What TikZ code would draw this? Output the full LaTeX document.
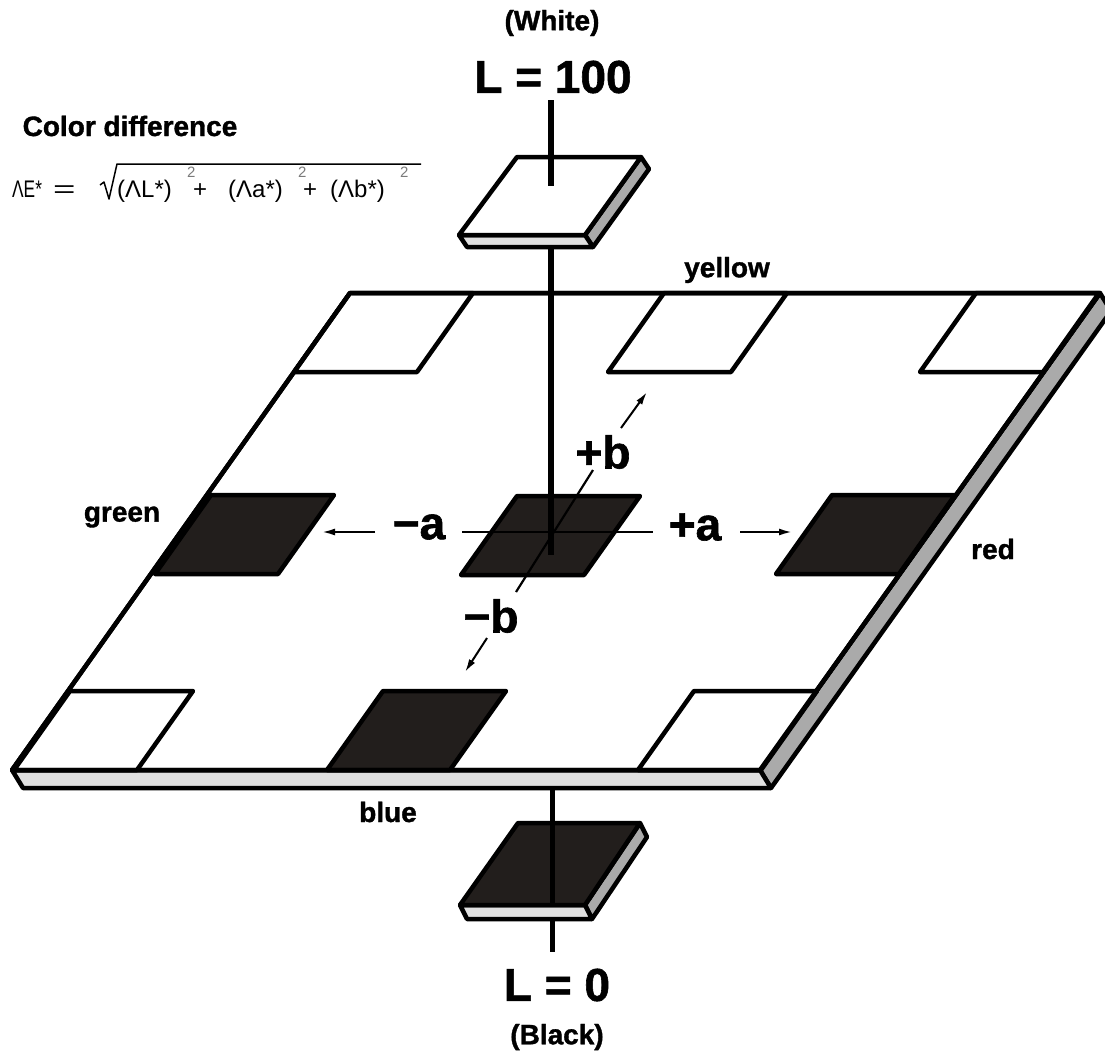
\documentclass[tikz,border=0pt]{standalone}
\usepackage{fontspec}
\setmainfont{Liberation Sans}
\newfontfamily\heavyfont{Liberation Sans}[BoldFeatures={FakeBold=1.3}]
\usetikzlibrary{arrows.meta}
\definecolor{tiledark}{HTML}{221E1C}
\definecolor{frontgray}{HTML}{E0E0E0}
\definecolor{sidegray}{HTML}{AAAAAA}
\definecolor{supgray}{HTML}{7A7A7A}
\begin{document}
\begin{tikzpicture}[x=1pt,y=-1pt,
  edge/.style={line width=4.5pt, line join=round},
  whiteface/.style={edge, fill=white},
  darkface/.style={edge, fill=tiledark},
  frontface/.style={edge, fill=frontgray},
  sideface/.style={edge, fill=sidegray},
  axisline/.style={line width=6pt},
  thinaxis/.style={line width=2.2pt},
  arrowline/.style={line width=2pt, -{Latex[length=13pt,width=7pt]}},
  lbl/.style={inner sep=0pt, font=\fontsize{28}{30}\selectfont\heavyfont\bfseries},
  biglbl/.style={inner sep=0pt, font=\fontsize{46}{50}\selectfont\heavyfont\bfseries},
  frm/.style={inner sep=0pt, anchor=base west, font=\fontsize{24}{26}\selectfont},
  sup/.style={inner sep=0pt, anchor=base west, text=supgray, font=\fontsize{15}{16}\selectfont},
]
\useasboundingbox (0,0) rectangle (1105,1053);

% ---------- main plate ----------
\begin{scope}
\clip (0,0) rectangle (1105,1053);
\draw[sideface] (1100,293) -- (1111,311) -- (771,788) -- (760,770) -- cycle;
\end{scope}
\draw[frontface] (12,770) -- (760,770) -- (771,788) -- (23,788) -- cycle;
\coordinate (P1) at (350,293);
\coordinate (P2) at (1100,293);
\coordinate (P3) at (760,770);
\coordinate (P4) at (12,770);
\draw[whiteface] (P1) -- (P2) -- (P3) -- (P4) -- cycle;

% ---------- squares on the plate ----------
\newcommand{\patch}[3]{\draw[#3] (#1,#2) -- ++(123,0) -- ++(-56,79) -- ++(-123,0) -- cycle;}
\patch{350}{293}{whiteface}
\patch{664}{293}{whiteface}
\patch{976}{293}{whiteface}
\patch{211}{495}{darkface}
\patch{517}{496}{darkface}
\patch{832}{495}{darkface}
\patch{70}{691}{whiteface}
\patch{383}{691}{darkface}
\patch{694}{691}{whiteface}
% redraw plate outline edges where squares touch it
\draw[edge] (P1) -- (P2) -- (P3) -- (P4) -- cycle;

% ---------- white tile (top) ----------
\draw[sideface] (641,157) -- (649,169) -- (593,247) -- (585,235) -- cycle;
\draw[frontface] (459,235) -- (585,235) -- (593,247) -- (467,247) -- cycle;
\draw[whiteface] (517,157) -- (641,157) -- (585,235) -- (459,235) -- cycle;

% ---------- black tile (bottom) ----------
\coordinate (Lb1) at (552,790);
\coordinate (Lb2) at (552,903);
\coordinate (Lb3) at (552,921);
\coordinate (Lb4) at (552,952);
\draw[sideface] (640,823) -- (647,837) -- (592,919) -- (585,905) -- cycle;
\draw[frontface] (460,905) -- (585,905) -- (592,919) -- (467,919) -- cycle;
\draw[darkface] (518,823) -- (640,823) -- (585,905) -- (460,905) -- cycle;
\draw[line width=5pt] (Lb1) -- (Lb2);
\draw[line width=5pt] (Lb3) -- (Lb4);

% ---------- a / b axes ----------
\coordinate (am) at (462,532);
\coordinate (ap) at (653,532);
\coordinate (bp) at (593,470);
\coordinate (bm) at (516,592);
\draw[thinaxis] (am) -- (ap);
\draw[thinaxis] (bm) -- (bp);

% ---------- L axis ----------
\coordinate (Lt1) at (551,100);
\coordinate (Lt2) at (551,186);
\coordinate (Lt3) at (551,249);
\coordinate (Lt4) at (551,555);
\draw[axisline] (Lt1) -- (Lt2);
\draw[axisline] (Lt3) -- (Lt4);

% ---------- arrows ----------
\coordinate (ma1) at (375,532);  \coordinate (ma2) at (322,532);
\coordinate (pa1) at (740,532);  \coordinate (pa2) at (792,532);
\coordinate (pb1) at (621,428);  \coordinate (pb2) at (647,392);
\coordinate (mb1) at (487,638);  \coordinate (mb2) at (465,672);
\draw[arrowline] (ma1) -- (ma2);
\draw[arrowline] (pa1) -- (pa2);
\draw[arrowline] (pb1) -- (pb2);
\draw[arrowline] (mb1) -- (mb2);

% ---------- labels ----------
\node[lbl] (white) at (552,23) {(White)};
\node[biglbl] (L100) at (553,77) {L = 100};
\node[biglbl] (L0) at (557,985) {L = 0};
\node[lbl] (black) at (557,1037) {(Black)};
\node[lbl] (yellow) at (727,270) {yellow};
\node[lbl] (green) at (122,517) {green};
\node[lbl] (red) at (993,549) {red};
\node[lbl] (blue) at (388,812) {blue};
\node[biglbl] (plusb) at (603,452) {+b};
\node[biglbl] (minusa) at (419,527) {−a};
\node[biglbl] (plusa) at (695,527) {+a};
\node[biglbl] (minusb) at (491,616) {−b};

% ---------- colour difference formula ----------
\node[lbl] (cd) at (130,126) {Color difference};
\node[frm] (f1) at (12,197) {\scalebox{0.72}[1]{ΛE*}};
\node[frm] (f2) at (53,197) {\scalebox{1.6}[1]{=}};
\draw[line width=1.5pt, line join=round] (100,185) -- (104,182) -- (109,199) -- (117,164) -- (421,164);
\node[frm] (f3) at (117,197) {(ΛL*)};
\node[sup] (s1) at (187,177) {2};
\node[frm] (f4) at (193,197) {+};
\node[frm] (f5) at (228,197) {(Λa*)};
\node[sup] (s2) at (298,177) {2};
\node[frm] (f6) at (303,197) {+};
\node[frm] (f7) at (330,197) {(Λb*)};
\node[sup] (s3) at (400,177) {2};
\end{tikzpicture}
\end{document}
